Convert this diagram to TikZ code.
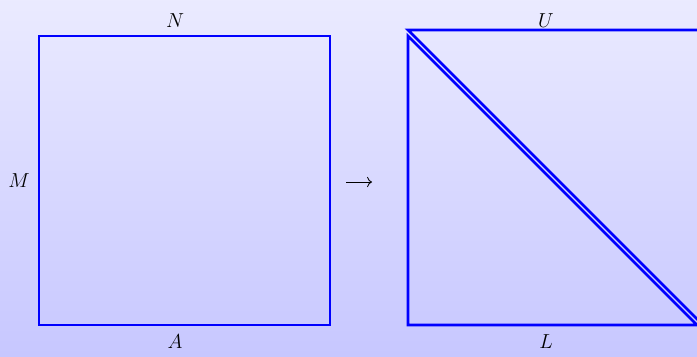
\documentclass[tikz,border=0pt]{standalone}
\usetikzlibrary{positioning,arrows.meta}
\tikzset{
  every node/.style={font=\Large},
  edge/.style={draw=blue, line width=2pt, line join=miter},
  lbl/.style={inner sep=0pt},
}
\begin{document}
\begin{tikzpicture}[x=0.025cm, y=-0.025cm]
  % background
  \shade[top color=blue!8, bottom color=blue!22] (0,0) rectangle (697,356);
  \useasboundingbox (0,0) rectangle (697,356);
  \clip (0,0) rectangle (697,356);
  % full matrix
  \coordinate (sqtl) at (39,36);
  \coordinate (sqbr) at (330,325);
  \draw[edge] (sqtl) rectangle (sqbr);
  \node[lbl] (n) at (175,21) {$N$};
  \node[lbl] (m) at (19,181) {$M$};
  \node[lbl] (a) at (175,342) {$A$};
  % arrow
  \coordinate (ar1) at (346,182);
  \coordinate (ar2) at (372,182);
  \draw[-{To[scale=1.2]}, semithick] (ar1) -- (ar2);
  % lower triangle
  \coordinate (lt) at (408,36);
  \coordinate (lbl0) at (408,325);
  \coordinate (lbr) at (697,325);
  \draw[edge] (lt) -- (lbl0) -- (lbr) -- cycle;
  \node[lbl] (l) at (546,342) {$L$};
  % upper triangle
  \coordinate (ut) at (408,30);
  \coordinate (utr) at (700,30);
  \coordinate (ubr) at (700,322);
  \draw[edge] (ut) -- (utr) -- (ubr) -- cycle;
  \node[lbl] (u) at (546,21) {$U$};
\end{tikzpicture}
\end{document}
